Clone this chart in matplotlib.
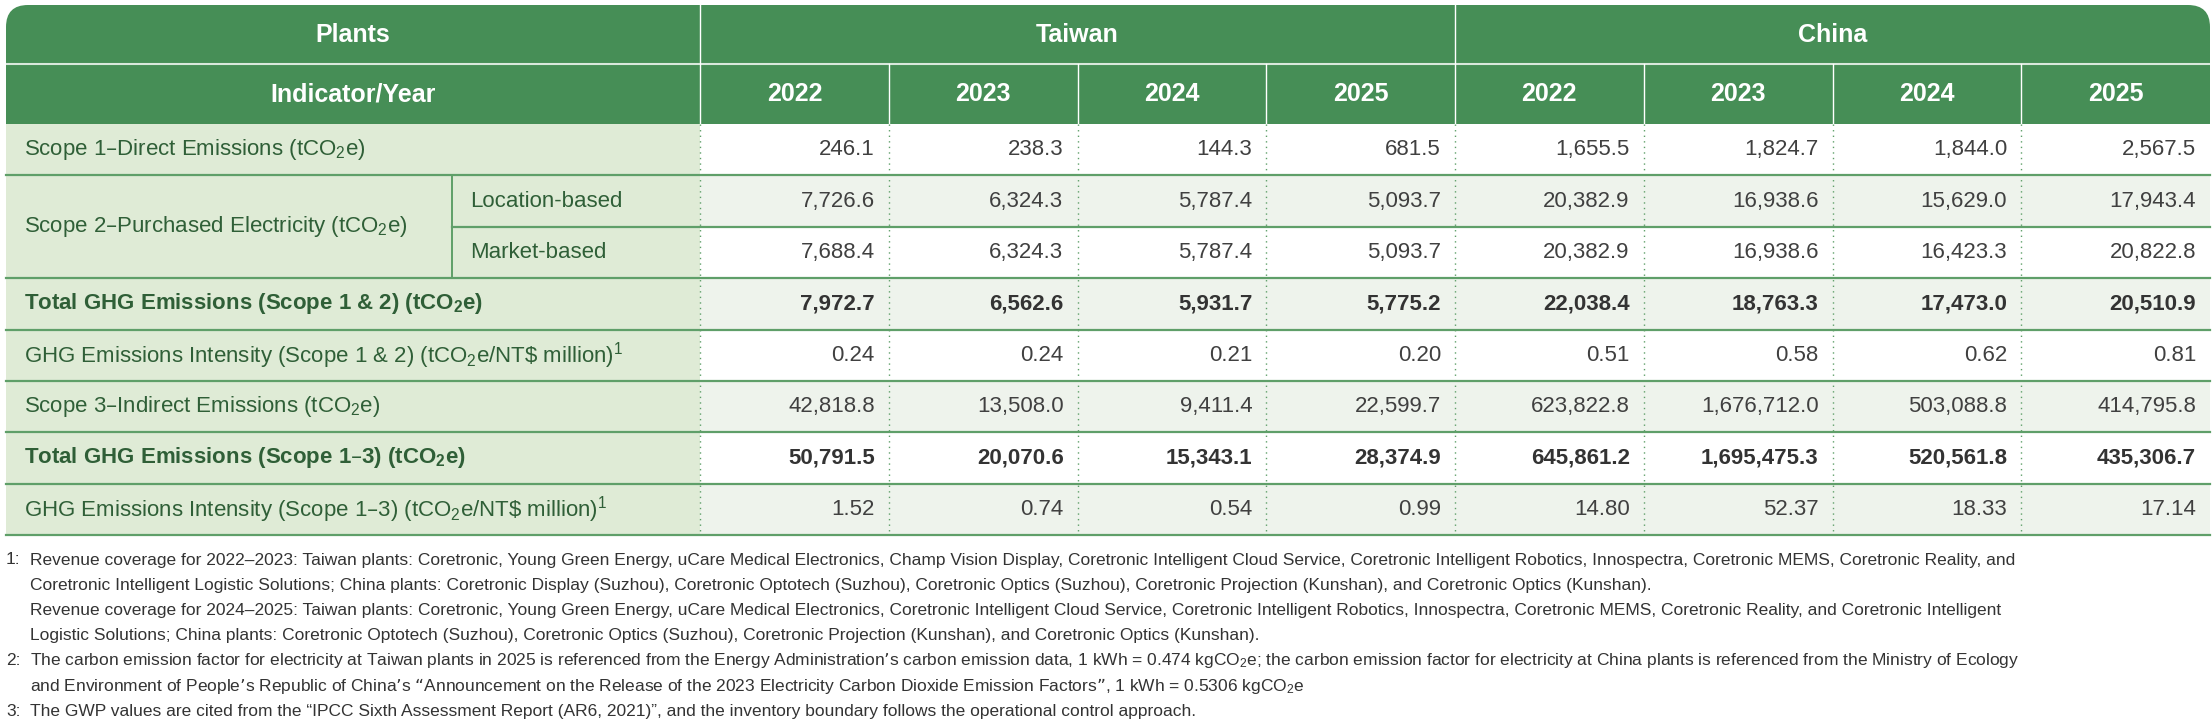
import matplotlib.pyplot as plt
from matplotlib.patches import Rectangle, FancyBboxPatch

plt.rcParams['font.family'] = ['Liberation Sans', 'DejaVu Sans']
plt.rcParams['mathtext.default'] = 'regular'

regions = ["Taiwan", "China"]
years = ["2022", "2023", "2024", "2025"]
row_labels = [
    "Scope 1–Direct Emissions (tCO$_2$e)",
    "Location-based",
    "Market-based",
    "Total GHG Emissions (Scope 1 & 2) (tCO$_2$e)",
    "GHG Emissions Intensity (Scope 1 & 2) (tCO$_2$e/NT\\$ million)$^1$",
    "Scope 3–Indirect Emissions (tCO$_2$e)",
    "Total GHG Emissions (Scope 1–3) (tCO$_2$e)",
    "GHG Emissions Intensity (Scope 1–3) (tCO$_2$e/NT\\$ million)$^1$",
]
scope2_label = "Scope 2–Purchased Electricity (tCO$_2$e)"
bold_rows = [3, 6]
values = [
    ["246.1", "238.3", "144.3", "681.5", "1,655.5", "1,824.7", "1,844.0", "2,567.5"],
    ["7,726.6", "6,324.3", "5,787.4", "5,093.7", "20,382.9", "16,938.6", "15,629.0", "17,943.4"],
    ["7,688.4", "6,324.3", "5,787.4", "5,093.7", "20,382.9", "16,938.6", "16,423.3", "20,822.8"],
    ["7,972.7", "6,562.6", "5,931.7", "5,775.2", "22,038.4", "18,763.3", "17,473.0", "20,510.9"],
    ["0.24", "0.24", "0.21", "0.20", "0.51", "0.58", "0.62", "0.81"],
    ["42,818.8", "13,508.0", "9,411.4", "22,599.7", "623,822.8", "1,676,712.0", "503,088.8", "414,795.8"],
    ["50,791.5", "20,070.6", "15,343.1", "28,374.9", "645,861.2", "1,695,475.3", "520,561.8", "435,306.7"],
    ["1.52", "0.74", "0.54", "0.99", "14.80", "52.37", "18.33", "17.14"],
]
footnotes = [
    ("1:", "Revenue coverage for 2022–2023: Taiwan plants: Coretronic, Young Green Energy, uCare Medical Electronics, Champ Vision Display, Coretronic Intelligent Cloud Service, Coretronic Intelligent Robotics, Innospectra, Coretronic MEMS, Coretronic Reality, and"),
    ("", "Coretronic Intelligent Logistic Solutions; China plants: Coretronic Display (Suzhou), Coretronic Optotech (Suzhou), Coretronic Optics (Suzhou), Coretronic Projection (Kunshan), and Coretronic Optics (Kunshan)."),
    ("", "Revenue coverage for 2024–2025: Taiwan plants: Coretronic, Young Green Energy, uCare Medical Electronics, Coretronic Intelligent Cloud Service, Coretronic Intelligent Robotics, Innospectra, Coretronic MEMS, Coretronic Reality, and Coretronic Intelligent"),
    ("", "Logistic Solutions; China plants: Coretronic Optotech (Suzhou), Coretronic Optics (Suzhou), Coretronic Projection (Kunshan), and Coretronic Optics (Kunshan)."),
    ("2:", "The carbon emission factor for electricity at Taiwan plants in 2025 is referenced from the Energy Administration’s carbon emission data, 1 kWh = 0.474 kgCO$_2$e; the carbon emission factor for electricity at China plants is referenced from the Ministry of Ecology"),
    ("", "and Environment of People’s Republic of China’s “Announcement on the Release of the 2023 Electricity Carbon Dioxide Emission Factors”, 1 kWh = 0.5306 kgCO$_2$e"),
    ("3:", "The GWP values are cited from the “IPCC Sixth Assessment Report (AR6, 2021)”, and the inventory boundary follows the operational control approach."),
]

GREEN = "#468e56"
LABEL_BG = "#dfebd6"
LIGHT = "#eef3ec"
LINE = "#5f9f69"
LABEL_TXT = "#2f5f37"
DATA_TXT = "#404040"

W, H = 2212, 728
fig = plt.figure(figsize=(W / 100, H / 100), dpi=100)
ax = fig.add_axes([0, 0, 1, 1])
ax.set_xlim(0, W)
ax.set_ylim(H, 0)
ax.axis("off")

x_left, x_split, x_lab = 6, 452, 700
col_w = (W - 2 - x_lab) / 8
col_x = [x_lab + i * col_w for i in range(9)]
h_top, h_mid, h_bot = 5, 64, 124
row_h = (535 - h_bot) / 8
row_y = [h_bot + i * row_h for i in range(9)]
x_right = col_x[-1]

# header
ax.add_patch(FancyBboxPatch((x_left, h_top), x_right - x_left, h_bot - h_top,
                            boxstyle="round,pad=0,rounding_size=22", fc=GREEN, ec="none"))
ax.add_patch(Rectangle((x_left, h_mid), x_right - x_left, h_bot - h_mid, fc=GREEN, ec="none"))
ax.plot([x_left, x_right], [h_mid, h_mid], color="white", lw=1.5, alpha=0.8)
ax.plot([x_lab, x_lab], [h_top, h_bot], color="white", lw=1)
ax.plot([col_x[4], col_x[4]], [h_top, h_bot], color="white", lw=1)
for xc in col_x[1:8]:
    if xc != col_x[4]:
        ax.plot([xc, xc], [h_mid, h_bot], color="white", lw=1)
hdr = dict(color="white", fontsize=18, fontweight="bold", ha="center", va="center")
ax.text((x_left + x_lab) / 2, (h_top + h_mid) / 2, "Plants", **hdr)
ax.text((x_left + x_lab) / 2, (h_mid + h_bot) / 2, "Indicator/Year", **hdr)
for r, name in enumerate(regions):
    ax.text((col_x[4 * r] + col_x[4 * r + 4]) / 2, (h_top + h_mid) / 2, name, **hdr)
    for j, yr in enumerate(years):
        k = 4 * r + j
        ax.text((col_x[k] + col_x[k + 1]) / 2, (h_mid + h_bot) / 2, yr, **hdr)

# body
ax.add_patch(Rectangle((x_left, row_y[0]), x_lab - x_left, row_y[-1] - row_y[0], fc=LABEL_BG, ec="none"))
for i, row in enumerate(values):
    y0, y1 = row_y[i], row_y[i + 1]
    yc = (y0 + y1) / 2
    ax.add_patch(Rectangle((x_lab, y0), x_right - x_lab, row_h,
                           fc=LIGHT if i % 2 else "white", ec="none"))
    bold = i in bold_rows
    lx = x_split + 18 if i in (1, 2) else x_left + 18
    ax.text(lx, yc, row_labels[i], color=LABEL_TXT, fontsize=16,
            fontweight="bold" if bold else "normal", ha="left", va="center")
    for k, v in enumerate(row):
        ax.text(col_x[k + 1] - 14, yc, v, color="#333333" if bold else DATA_TXT, fontsize=16,
                fontweight="bold" if bold else "normal", ha="right", va="center")
    x_start = x_split if i == 1 else x_left
    ax.plot([x_start, x_right], [y1, y1], color=LINE, lw=1.6)
ax.text(x_left + 18, row_y[2], scope2_label, color=LABEL_TXT, fontsize=16, ha="left", va="center")
ax.plot([x_split, x_split], [row_y[1], row_y[3]], color=LINE, lw=1.4)
for xc in col_x[1:8]:
    ax.plot([xc, xc], [row_y[0], row_y[-1]], color=LINE, lw=1, ls=(0, (1, 3)))
ax.plot([x_lab, x_lab], [row_y[0], row_y[-1]], color=LINE, lw=1, ls=(0, (1, 3)))

# footnotes
fy = 560
for tag, txt in footnotes:
    if tag:
        ax.text(x_left, fy, tag, color="#333333", fontsize=12.5, ha="left", va="center")
    ax.text(x_left + 24, fy, txt, color="#333333", fontsize=12.5, ha="left", va="center")
    fy += 25.2

fig.savefig("out.png", dpi=100)
